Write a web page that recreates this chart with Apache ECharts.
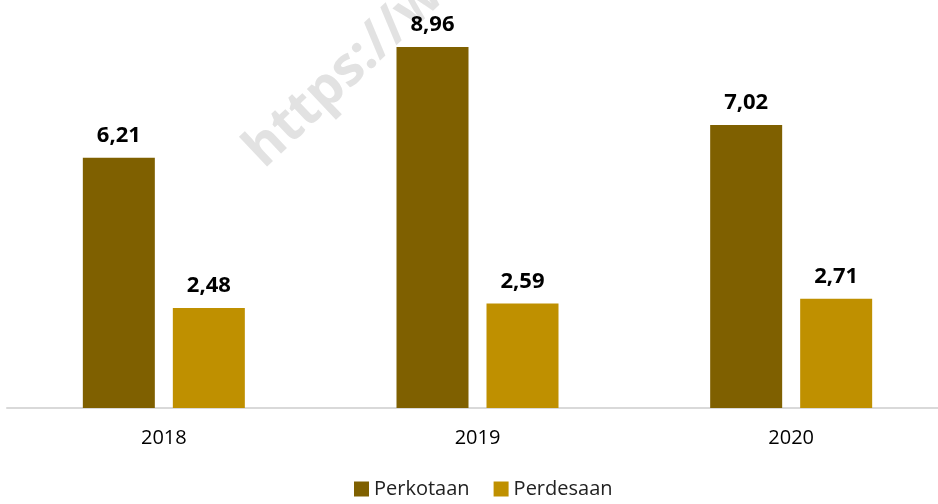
<!DOCTYPE html>
<html>
<head>
<meta charset="utf-8">
<script src="https://cdn.jsdelivr.net/npm/echarts@6/dist/echarts.min.js"></script>
<style>
  html, body { margin: 0; padding: 0; background: #fff; }
  #chart { width: 938px; height: 504px; }
</style>
</head>
<body>
<div id="chart"></div>
<script>
const years = ['2018', '2019', '2020']
const perkotaan = [6.21, 8.96, 7.02]
const perdesaan = [2.48, 2.59, 2.71]

const chart = echarts.init(document.getElementById('chart'))
const fmt = p => p.value.toFixed(2).replace('.', ',')
const label = {
  show: true,
  position: 'top',
  distance: 11,
  formatter: fmt,
  color: '#000',
  fontSize: 22,
  fontWeight: 'bold',
  fontFamily: 'Open Sans'
}

chart.setOption({
  animation: false,
  // watermark
  graphic: [{
    type: 'text',
    x: 272,
    y: 178,
    z: -10,
    rotation: Math.PI * 0.24,
    style: {
      text: 'https://www.bps.go.id',
      fill: '#e2e2e2',
      font: 'bold 54px "Open Sans"',
      textAlign: 'left',
      textVerticalAlign: 'bottom'
    }
  }],
  legend: {
    bottom: 0,
    left: 349,
    itemWidth: 15,
    itemHeight: 15,
    itemGap: 24,
    icon: 'rect',
    textStyle: { fontSize: 20, color: '#222', fontFamily: 'Open Sans' }
  },
  grid: { left: 7, width: 941, top: 5, bottom: 96, outerBoundsMode: 'none' },
  xAxis: {
    type: 'category',
    data: years,
    axisTick: { show: false },
    axisLine: { lineStyle: { color: '#d9d9d9', width: 2 } },
    axisLabel: { color: '#000', fontSize: 20, margin: 20, fontFamily: 'Open Sans' }
  },
  yAxis: {
    type: 'value',
    min: 0,
    max: 10,
    show: false,
    splitLine: { show: false }
  },
  series: [
    {
      name: 'Perkotaan',
      type: 'bar',
      data: perkotaan,
      barWidth: 72,
      barGap: '25%',
      itemStyle: { color: '#7f6000' },
      label
    },
    {
      name: 'Perdesaan',
      type: 'bar',
      data: perdesaan,
      barWidth: 72,
      itemStyle: { color: '#bf9000' },
      label
    }
  ]
})
</script>
</body>
</html>
